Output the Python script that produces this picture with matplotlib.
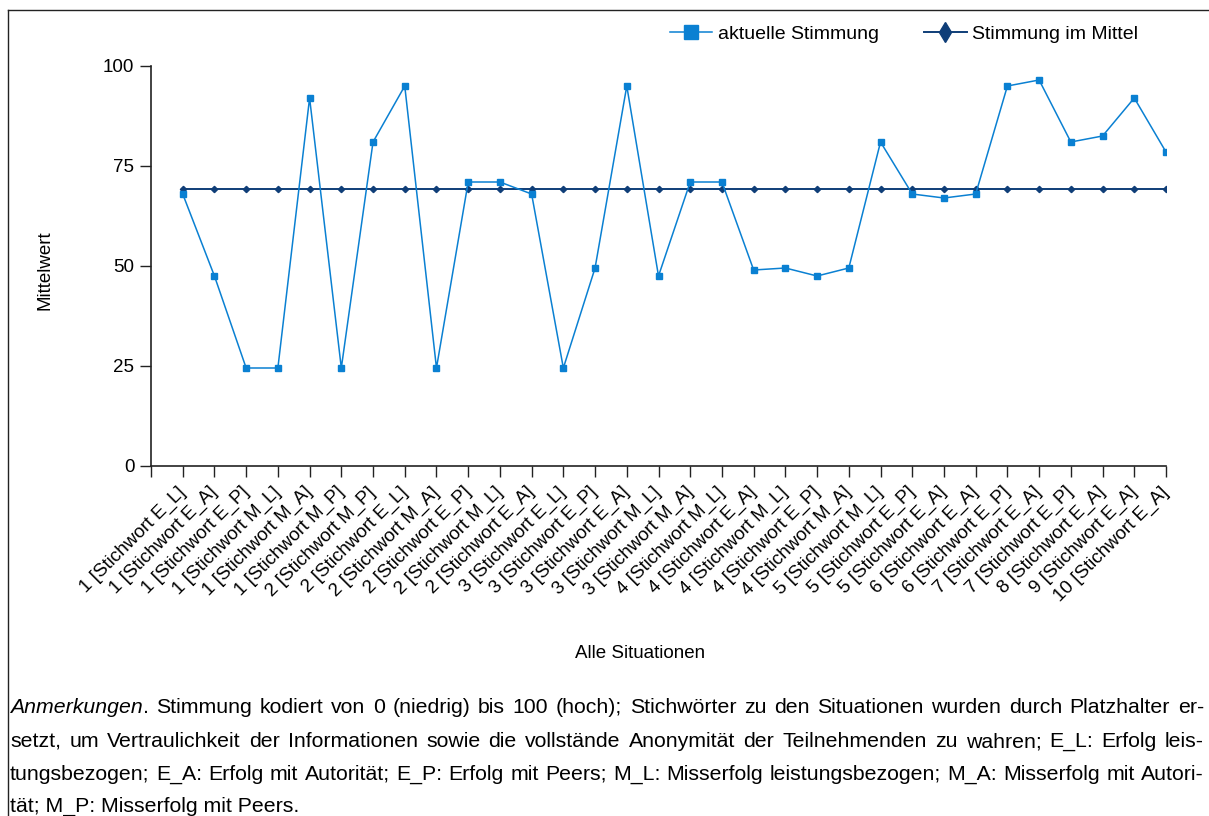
import matplotlib
matplotlib.use("Agg")
import matplotlib.pyplot as plt
from matplotlib.lines import Line2D

plt.rcParams['font.family'] = 'Liberation Sans'

W, H = 1209, 816

labels = [
    "1 [Stichwort E_L]", "1 [Stichwort E_A]", "1 [Stichwort E_P]", "1 [Stichwort M_L]",
    "1 [Stichwort M_A]", "1 [Stichwort M_P]", "2 [Stichwort M_P]", "2 [Stichwort E_L]",
    "2 [Stichwort M_A]", "2 [Stichwort E_P]", "2 [Stichwort M_L]", "2 [Stichwort E_A]",
    "3 [Stichwort E_L]", "3 [Stichwort E_P]", "3 [Stichwort E_A]", "3 [Stichwort M_L]",
    "3 [Stichwort M_A]", "4 [Stichwort M_L]", "4 [Stichwort E_A]", "4 [Stichwort M_L]",
    "4 [Stichwort E_P]", "4 [Stichwort M_A]", "5 [Stichwort M_L]", "5 [Stichwort E_P]",
    "5 [Stichwort E_A]", "6 [Stichwort E_A]", "6 [Stichwort E_P]", "7 [Stichwort E_A]",
    "7 [Stichwort E_P]", "8 [Stichwort E_A]", "9 [Stichwort E_A]", "10 [Stichwort E_A]",
]

aktuell = [68, 47.5, 24.5, 24.5, 92, 24.5, 81, 95,
           24.5, 71, 71, 68, 24.5, 49.5, 95, 47.5,
           71, 71, 49, 49.5, 47.5, 49.5, 81, 68,
           67, 68, 95, 96.5, 81, 82.5, 92, 78.5]

mittel = [69.3, 69.3, 69.3, 69.3, 69.3, 69.3, 69.3, 69.3,
          69.3, 69.3, 69.3, 69.3, 69.3, 69.3, 69.3, 69.3,
          69.3, 69.3, 69.3, 69.3, 69.3, 69.3, 69.3, 69.3,
          69.3, 69.3, 69.3, 69.3, 69.3, 69.3, 69.3, 69.3]

yticks = [0, 25, 50, 75, 100]

blue = "#0a80d2"
navy = "#0f3e78"
fs = 13.5

fig = plt.figure(figsize=(W / 100, H / 100), dpi=100)

# outer frame (top and left edge)
fig.add_artist(Line2D([8 / W, 1], [1 - 10 / H, 1 - 10 / H], color="#222222", lw=1))
fig.add_artist(Line2D([8 / W, 8 / W], [0, 1 - 10 / H], color="#222222", lw=1))

ax = fig.add_axes([151 / W, 1 - 466 / H, (1166 - 151) / W, 400 / H])
x = list(range(len(labels)))
ax.plot(x, aktuell, color=blue, lw=1.1, marker="s", ms=5, zorder=3)
ax.plot(x, mittel, color=navy, lw=1.4, marker="D", ms=3.2, zorder=2)

ax.set_xlim(-1, len(labels) - 1)
ax.set_ylim(0, 100)
ax.set_xticks([-1] + x)
ax.set_xticklabels([""] + labels, rotation=45, ha="right", va="center",
                   rotation_mode="anchor", fontsize=fs)
ax.set_yticks(yticks)
ax.set_yticklabels([str(v) for v in yticks], fontsize=fs)
ax.tick_params(direction="out", length=8, width=1, color="#222222", pad=4)
ax.tick_params(axis="x", pad=9)
for s in ["top", "right"]:
    ax.spines[s].set_visible(False)
for s in ["left", "bottom"]:
    ax.spines[s].set_color("#222222")
    ax.spines[s].set_linewidth(1.2)

fig.text(45 / W, 1 - 270 / H, "Mittelwert", rotation=90, ha="center", va="center", fontsize=fs)
fig.text(640 / W, 1 - 653 / H, "Alle Situationen", ha="center", va="center", fontsize=fs)

handles = [
    Line2D([], [], color=blue, lw=1.1, marker="s", ms=10),
    Line2D([], [], color=navy, lw=1.4, marker="d", ms=10),
]
fig.legend(handles, ["aktuelle Stimmung", "Stimmung im Mittel"], loc="center",
           bbox_to_anchor=(904 / W, 1 - 34 / H), ncol=2, frameon=False, fontsize=14,
           handlelength=2.2, handletextpad=0.3, columnspacing=2.3)

# notes below the chart, justified like the original
note_lines = [
    ([("Anmerkungen", "italic"), (".", "normal")],
     "Stimmung kodiert von 0 (niedrig) bis 100 (hoch); Stichwörter zu den Situationen wurden durch Platzhalter er-"),
    ([], "setzt, um Vertraulichkeit der Informationen sowie die vollstände Anonymität der Teilnehmenden zu wahren; E_L: Erfolg leis-"),
    ([], "tungsbezogen; E_A: Erfolg mit Autorität; E_P: Erfolg mit Peers; M_L: Misserfolg leistungsbezogen; M_A: Misserfolg mit Autori-"),
    ([], "tät; M_P: Misserfolg mit Peers."),
]
note_base = [713, 747, 780, 812]
nfs = 15.3
x0, x1 = 10, 1204

renderer = fig.canvas.get_renderer()
for i, (first, rest) in enumerate(note_lines):
    y = 1 - note_base[i] / H
    words = []
    if first:
        words.append(first)
    for w in rest.split(" "):
        words.append([(w, "normal")])
    if i == len(note_lines) - 1:
        fig.text(x0 / W, y, rest, ha="left", va="baseline", fontsize=nfs)
        continue
    objs = []
    widths = []
    for word in words:
        parts = []
        wsum = 0
        for seg, style in word:
            t = fig.text(0, y, seg, ha="left", va="baseline", fontsize=nfs, style=style)
            wpx = t.get_window_extent(renderer).width
            parts.append((t, wpx))
            wsum += wpx
        objs.append(parts)
        widths.append(wsum)
    gap = (x1 - x0 - sum(widths)) / (len(words) - 1)
    pos = x0
    for parts, wsum in zip(objs, widths):
        p = pos
        for t, wpx in parts:
            t.set_x(p / W)
            p += wpx
        pos += wsum + gap

fig.savefig("out.png", dpi=100)
